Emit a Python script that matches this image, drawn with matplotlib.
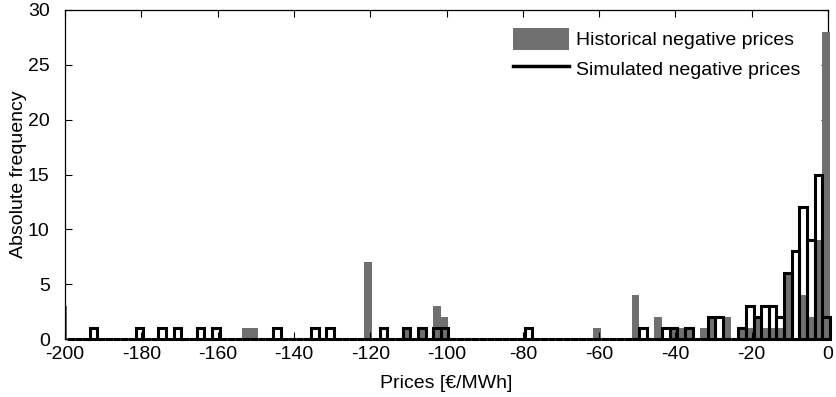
import numpy as np
import matplotlib
matplotlib.use("Agg")
import matplotlib.pyplot as plt
from matplotlib.patches import Patch
from matplotlib.lines import Line2D

plt.rcParams['font.family'] = ['Liberation Sans', 'DejaVu Sans']
plt.rcParams['axes.unicode_minus'] = False

# Histogram bin centres (bin width 2 EUR/MWh)
bin_centers = np.arange(-200.5, 0.0, 2.0)

# Historical negative prices: bin centre -> count
hist_prices = [-200.5, -152.5, -150.5, -120.5, -110.5, -106.5, -102.5, -100.5,
               -60.5, -50.5, -44.5, -40.5, -38.5, -36.5, -32.5, -30.5, -26.5,
               -22.5, -20.5, -18.5, -16.5, -14.5, -12.5, -10.5, -6.5, -4.5,
               -2.5, -0.5]
hist_counts = [3, 1, 1, 7, 1, 1, 3, 2,
               1, 4, 2, 1, 1, 1, 1, 2, 2,
               1, 1, 2, 1, 1, 1, 6, 4, 2,
               9, 28]

# Simulated negative prices: bin centre -> count
sim_prices = [-192.5, -180.5, -174.5, -170.5, -164.5, -160.5, -144.5, -134.5,
              -130.5, -116.5, -110.5, -106.5, -102.5, -100.5, -78.5, -48.5,
              -42.5, -40.5, -36.5, -30.5, -28.5, -22.5, -20.5, -18.5, -16.5,
              -14.5, -12.5, -10.5, -8.5, -6.5, -4.5, -2.5, -0.5]
sim_counts = [1, 1, 1, 1, 1, 1, 1, 1,
              1, 1, 1, 1, 1, 1, 1, 1,
              1, 1, 1, 2, 2, 1, 3, 2, 3,
              3, 2, 6, 8, 12, 9, 15, 2]

x_ticks = list(range(-200, 1, 20))
y_ticks = list(range(0, 31, 5))

def full_counts(prices, counts):
    lookup = {round(p, 1): c for p, c in zip(prices, counts)}
    return np.array([lookup.get(round(b, 1), 0) for b in bin_centers], dtype=float)

hist_full = full_counts(hist_prices, hist_counts)
sim_full = full_counts(sim_prices, sim_counts)

fig = plt.figure(figsize=(8.36, 3.97), dpi=100)
ax = fig.add_axes([65/836, 58/397, 763/836, 329/397])

gray = '#707070'
hb = ax.bar(bin_centers, hist_full, width=2.0, color=gray, edgecolor='none',
            linewidth=0, zorder=1)
# right-most historical bar drawn over the right axis edge
hb[-1].set_clip_on(False)
hb[-1].set_zorder(3)

# simulated histogram outlines (zero bins give the thick base line)
inside = bin_centers > -200
sb = ax.bar(bin_centers[inside], sim_full[inside], width=2.0, facecolor='none',
            edgecolor='black', linewidth=2.2, zorder=4)
for r in sb:
    r.set_clip_on(False)

ax.set_xlim(-200, 0)
ax.set_ylim(0, 30)
ax.set_xticks(x_ticks)
ax.set_yticks(y_ticks)
ax.tick_params(direction='in', length=5, width=0.8, labelsize=14,
               top=True, right=True)
ax.tick_params(axis='y', pad=11)
ax.tick_params(axis='x', pad=5)
for s in ax.spines.values():
    s.set_linewidth(0.9)

ax.set_xlabel('Prices [€/MWh]', fontsize=14, labelpad=9)
ax.set_ylabel('Absolute frequency', fontsize=14, labelpad=1)

handles = [Patch(facecolor=gray, edgecolor='none'),
           Line2D([0], [0], color='black', linewidth=2.5)]
ax.legend(handles, ['Historical negative prices', 'Simulated negative prices'],
          loc='upper left', bbox_to_anchor=(0.587, 0.945), frameon=False,
          fontsize=14, handlelength=2.9, handleheight=1.35, handletextpad=0.35,
          labelspacing=0.38, borderpad=0, borderaxespad=0)

fig.savefig('out.png', dpi=100)
